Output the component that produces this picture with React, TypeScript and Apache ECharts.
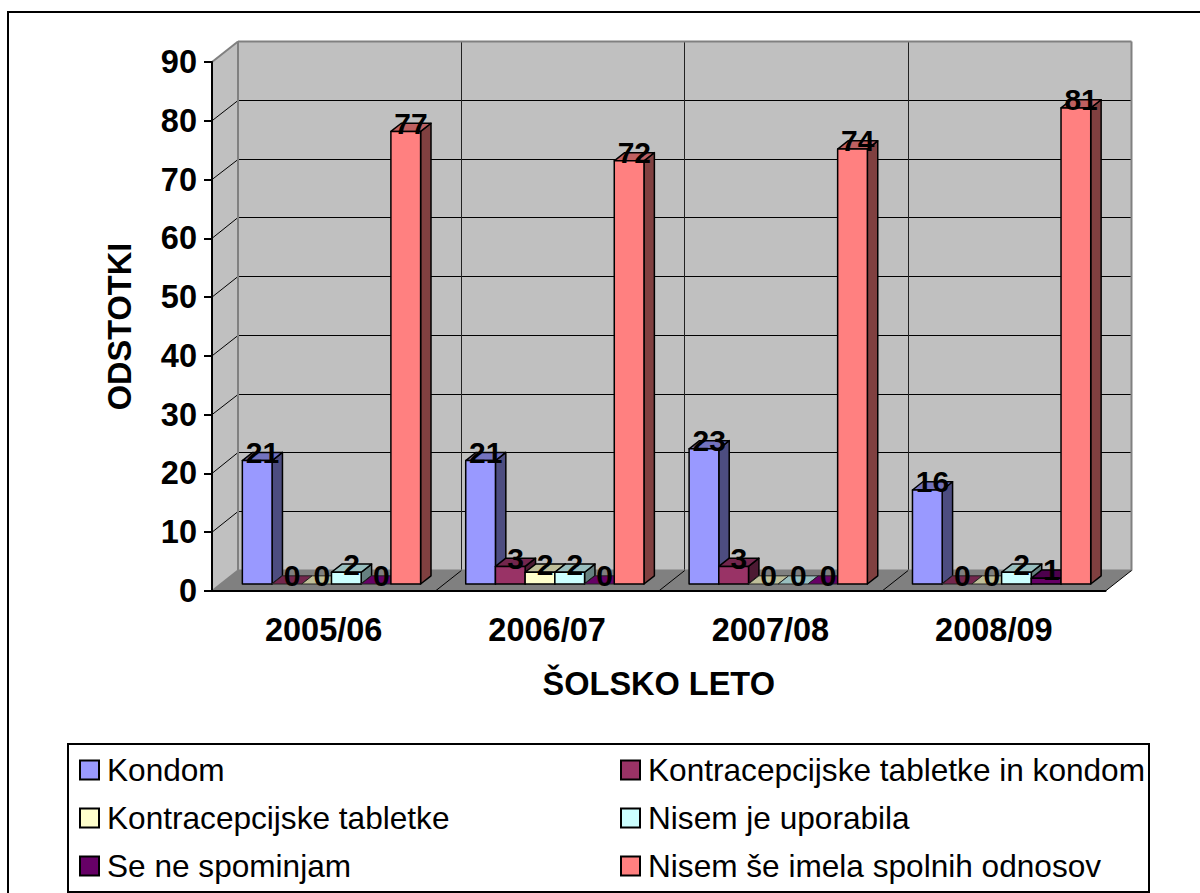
import React, { useEffect, useRef } from "react";
import * as echarts from "echarts";

const schoolYears = ["2005/06", "2006/07", "2007/08", "2008/09"];
const kondom = [21, 21, 23, 16];
const tabletkeInKondom = [0, 3, 3, 0];
const tabletke = [0, 2, 0, 0];
const nisemUporabila = [2, 2, 0, 2];
const seNeSpominjam = [0, 0, 0, 1];
const nisemImela = [77, 72, 74, 81];

const seriesNames = [
  "Kondom",
  "Kontracepcijske tabletke in kondom",
  "Kontracepcijske tabletke",
  "Nisem je uporabila",
  "Se ne spominjam",
  "Nisem še imela spolnih odnosov",
];
const seriesValues = [kondom, tabletkeInKondom, tabletke, nisemUporabila, seNeSpominjam, nisemImela];
const seriesColors = ["#9999FF", "#993366", "#FFFFCC", "#CCFFFF", "#660066", "#FF8080"];

const FONT = '"Liberation Sans", Arial, sans-serif';
const FONT_SIZE = 32.5;
const VALUE_FONT_SIZE = 30;

// Oblique projection of the chart box: how far the back plane sits from the front plane.
const DEPTH_X = 26;
const DEPTH_Y = -20.5;
// Depth range occupied by the columns, as fractions of the floor depth.
const BAR_NEAR = 0.34;
const BAR_FAR = 0.74;
// Column width and side padding, as fractions of a category band.
const BAR_SHARE = 0.133;
const BAND_PAD = 0.0963;
const BAR_LINE = 1.5;

function shade(hex: string, k: number) {
  const n = parseInt(hex.slice(1), 16);
  const ch = (s: number) => Math.round(((n >> s) & 255) * k);
  return `rgb(${ch(16)},${ch(8)},${ch(0)})`;
}

function poly(points: number[][], fill: string, stroke: string | null, lineWidth = BAR_LINE, z2 = 0) {
  return {
    type: "polygon",
    z2,
    shape: { points },
    style: { fill, stroke: stroke ?? "none", lineWidth: stroke ? lineWidth : 0, lineJoin: "round" },
  };
}

function seg(x1: number, y1: number, x2: number, y2: number, stroke: string, lineWidth = 1, z2 = 1) {
  return {
    type: "line",
    z2,
    shape: { x1, y1, x2, y2 },
    style: { stroke, lineWidth },
  };
}

const crisp = (v: number) => Math.floor(v) + 0.5;

// Walls, floor and gridlines of the box, placed from the axis scales.
function renderBox(params: any, api: any) {
  const cs = params.coordSys;
  const left = cs.x;
  const right = cs.x + cs.width;
  const y0 = api.coord([0, 0])[1];
  const yMax = api.coord([0, 90])[1];
  const band = api.size([1, 0])[0];
  const bl = left + DEPTH_X;
  const br = right + DEPTH_X;
  const children: any[] = [
    poly([[left, y0], [bl, y0 + DEPTH_Y], [bl, yMax + DEPTH_Y], [left, yMax]], "#C0C0C0", null),
    poly([[bl, y0 + DEPTH_Y], [br, y0 + DEPTH_Y], [br, yMax + DEPTH_Y], [bl, yMax + DEPTH_Y]], "#C0C0C0", null),
    poly([[left, y0], [bl, y0 + DEPTH_Y], [br, y0 + DEPTH_Y], [right, y0]], "#808080", null),
  ];
  for (let v = 10; v < 90; v += 10) {
    const y = api.coord([0, v])[1];
    const yb = crisp(y + DEPTH_Y);
    children.push(seg(left, y, bl, yb, "#000"));
    children.push(seg(bl, yb, br, yb, "#000"));
  }
  for (let c = 0; c <= schoolYears.length; c++) {
    const x = left + band * c;
    if (c > 0 && c < schoolYears.length) {
      const xb = crisp(x + DEPTH_X);
      children.push(seg(xb, yMax + DEPTH_Y, xb, y0 + DEPTH_Y, "#222"));
    }
    if (c > 0) children.push(seg(x, y0, x + DEPTH_X, y0 + DEPTH_Y, "#000", 1, 3));
  }
  // Grey outline of the walls.
  children.push(seg(left, yMax, bl, yMax + DEPTH_Y, "#808080", 2, 2));
  children.push(seg(bl, yMax + DEPTH_Y, br, yMax + DEPTH_Y, "#808080", 2, 2));
  children.push(seg(bl, yMax + DEPTH_Y, bl, y0 + DEPTH_Y, "#808080", 2, 2));
  children.push(seg(br, yMax + DEPTH_Y, br, y0 + DEPTH_Y, "#808080", 2, 2));
  children.push(seg(left, y0, bl, y0 + DEPTH_Y, "#808080", 2, 2));
  children.push(seg(bl, y0 + DEPTH_Y, br, y0 + DEPTH_Y, "#808080", 2, 2));
  return { type: "group", children };
}

// One oblique column: front face, right side, top face and its value label.
function renderColumn(index: number) {
  const color = seriesColors[index];
  return (_params: any, api: any) => {
    const cat = api.value(0);
    const value = api.value(1);
    const band = api.size([1, 0])[0];
    const [cx, y0] = api.coord([cat, 0]);
    const yv = api.coord([cat, value])[1];
    const w = band * BAR_SHARE;
    const x = cx - band / 2 + band * BAND_PAD + DEPTH_X * BAR_NEAR + w * index;
    const base = y0 + DEPTH_Y * BAR_NEAR;
    const top = yv + DEPTH_Y * BAR_NEAR;
    const dx = DEPTH_X * (BAR_FAR - BAR_NEAR);
    const dy = DEPTH_Y * (BAR_FAR - BAR_NEAR);
    const children: any[] = [];
    if (value > 0) {
      children.push(
        poly([[x + w, top], [x + w + dx, top + dy], [x + w + dx, base + dy], [x + w, base]], shade(color, 0.5), "#000"),
        poly([[x, top], [x + dx, top + dy], [x + w + dx, top + dy], [x + w, top]], shade(color, 0.75), "#000"),
        poly([[x, top], [x + w, top], [x + w, base], [x, base]], color, "#000"),
      );
    } else {
      // A zero value collapses to a flat plate on the floor.
      children.push(
        poly(
          [[x, base], [x + dx, base + dy], [x + w + dx, base + dy], [x + w, base]],
          index === 4 ? color : shade(color, 0.75),
          "#222",
          1,
        ),
      );
    }
    children.push({
      type: "text",
      z2: 100,
      x: x + w / 2 + dx / 2,
      y: top + dy,
      style: {
        text: String(value),
        fill: "#000",
        font: `bold ${VALUE_FONT_SIZE}px ${FONT}`,
        align: "center",
        verticalAlign: "middle",
      },
    });
    return { type: "group", children };
  };
}

const legendSlots = [
  { left: 79, top: 754 },
  { left: 620, top: 754 },
  { left: 79, top: 802 },
  { left: 620, top: 802 },
  { left: 79, top: 850 },
  { left: 620, top: 850 },
];

export default function App() {
  const ref = useRef<HTMLDivElement>(null);
  useEffect(() => {
    document.body.style.margin = "0";
    const chart = echarts.init(ref.current!, null, { renderer: "svg" });
    chart.setOption({
      animation: false,
      backgroundColor: "#fff",
      textStyle: { fontFamily: FONT },
      grid: { left: 212, top: 62, width: 893.5, height: 529, containLabel: false },
      xAxis: {
        type: "category",
        data: schoolYears,
        z: 5,
        name: "ŠOLSKO LETO",
        nameLocation: "middle",
        nameGap: 76,
        nameTextStyle: { color: "#000", fontSize: FONT_SIZE, fontWeight: "bold", fontFamily: FONT },
        axisLine: { lineStyle: { color: "#000", width: 2 } },
        axisTick: { length: 8, lineStyle: { color: "#000", width: 2 } },
        axisLabel: { color: "#000", fontSize: FONT_SIZE, fontWeight: "bold", margin: 22, fontFamily: FONT },
      },
      yAxis: {
        type: "value",
        min: 0,
        max: 90,
        interval: 10,
        z: 5,
        name: "ODSTOTKI",
        nameLocation: "middle",
        nameGap: 76,
        nameTextStyle: { color: "#000", fontSize: FONT_SIZE, fontWeight: "bold", fontFamily: FONT },
        splitLine: { show: false },
        axisLine: { show: true, lineStyle: { color: "#000", width: 2 } },
        axisTick: { show: true, length: 8, lineStyle: { color: "#000", width: 2 } },
        axisLabel: { color: "#000", fontSize: FONT_SIZE, fontWeight: "bold", margin: 15, fontFamily: FONT },
      },
      legend: seriesNames.map((name, i) => ({
        data: [name],
        left: legendSlots[i].left,
        top: legendSlots[i].top,
        padding: 0,
        itemWidth: 19,
        itemHeight: 19,
        itemGap: 0,
        selectedMode: false,
        icon: "rect",
        textStyle: { color: "#000", fontSize: 31.6, fontFamily: FONT, padding: [0, 0, 0, 3] },
      })),
      series: [
        {
          type: "custom",
          name: "box",
          silent: true,
          clip: false,
          z: 1,
          encode: { x: 0, y: 1 },
          data: [[0, 0]],
          renderItem: renderBox,
        },
        ...seriesNames.map((name, i) => ({
          type: "custom",
          name,
          silent: true,
          clip: false,
          z: 2,
          encode: { x: 0, y: 1 },
          itemStyle: { color: seriesColors[i], borderColor: "#000", borderWidth: 2 },
          data: seriesValues[i].map((v, c) => [c, v]),
          renderItem: renderColumn(i),
        })),
      ],
      graphic: [
        {
          type: "rect",
          z: -1,
          silent: true,
          shape: { x: 8, y: 12, width: 1300, height: 1000 },
          style: { fill: "none", stroke: "#000", lineWidth: 2 },
        },
        {
          type: "rect",
          z: -1,
          silent: true,
          shape: { x: 68, y: 744, width: 1081, height: 148 },
          style: { fill: "#fff", stroke: "#000", lineWidth: 2 },
        },
      ],
    });
    return () => chart.dispose();
  }, []);
  return <div ref={ref} style={{ width: 1200, height: 893 }} />;
}
